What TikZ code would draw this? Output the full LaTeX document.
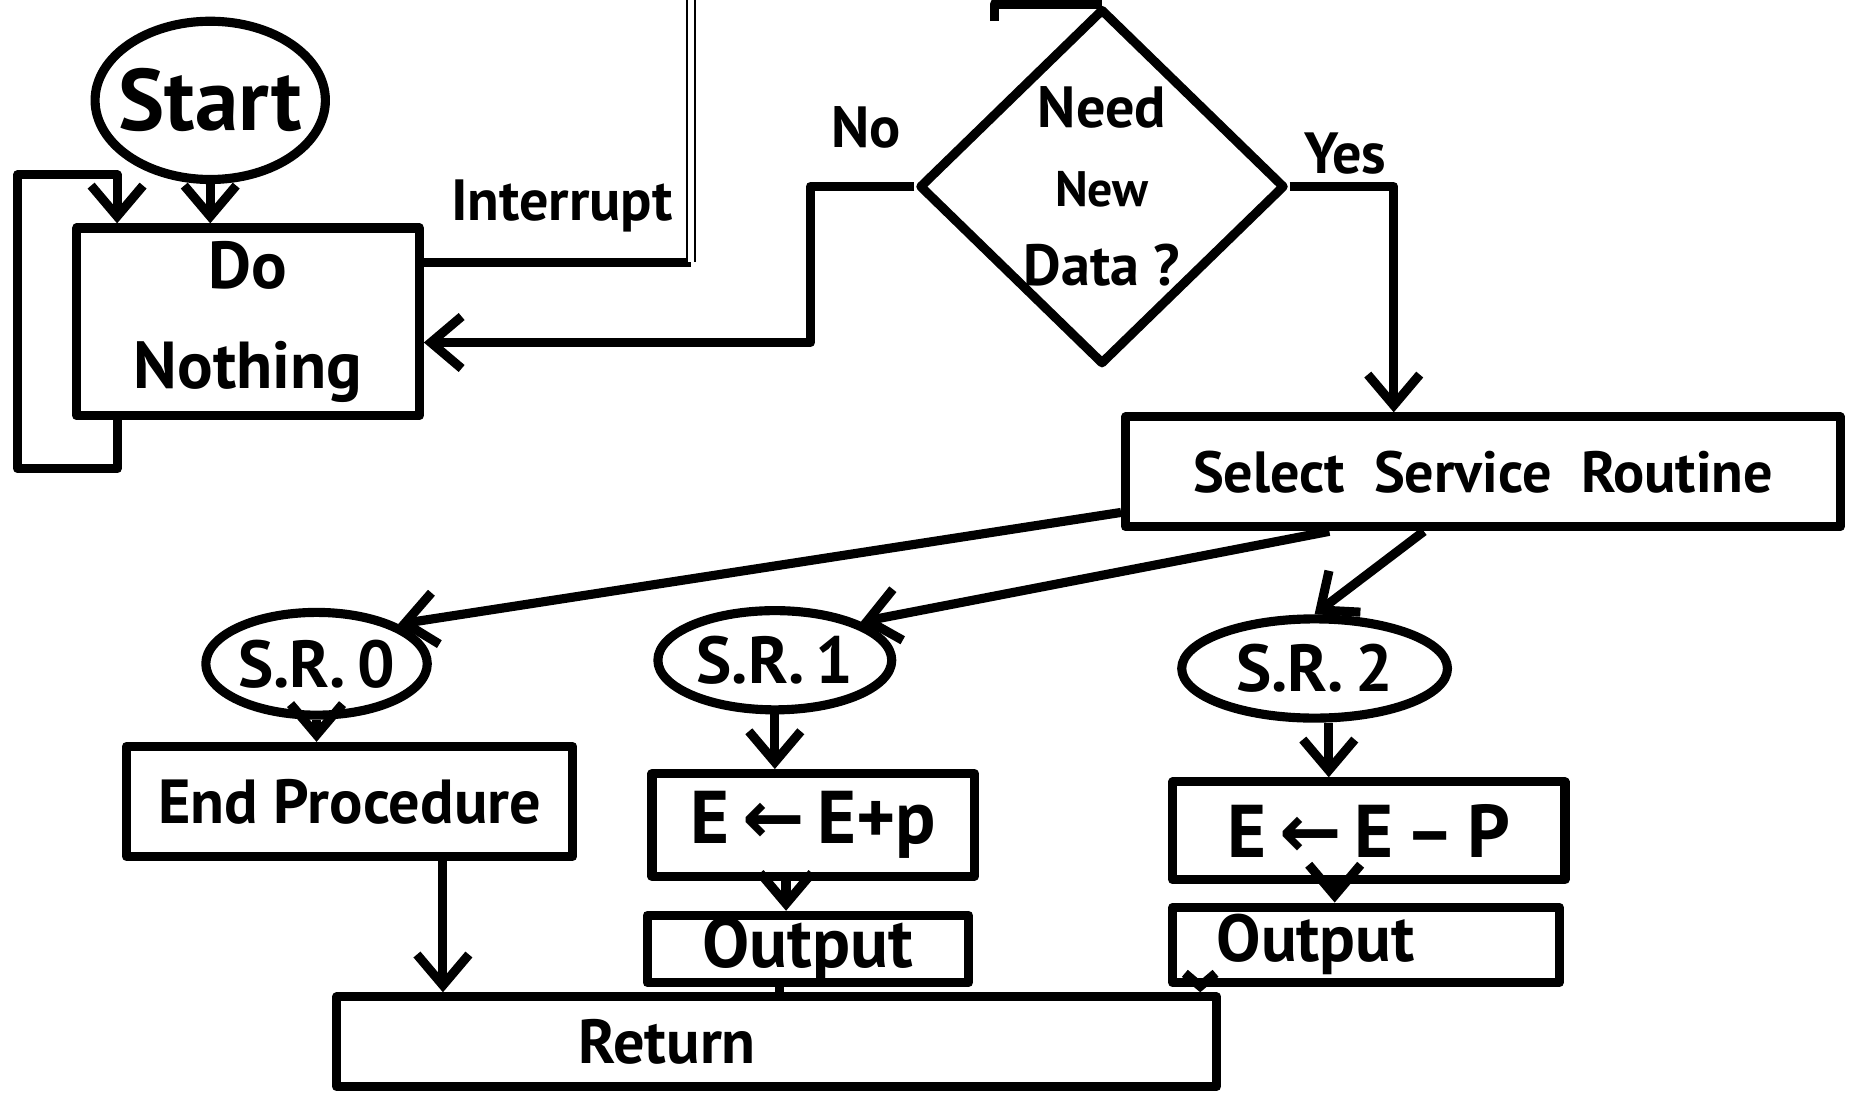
\documentclass[tikz,border=0pt]{standalone}
\usepackage{fontspec}
\setmainfont{PT Sans}
\newfontfamily\arrowfont{DejaVu Sans}
\usepackage{tikz}
\usetikzlibrary{
	arrows.meta,
	calc,
	positioning,
	shapes.geometric
}
\newcommand{\getsarrow}{{\arrowfont\bfseries ←}}

\begin{document}
\begin{tikzpicture}[line width=2.2pt, line join=round,
	flow/.style={-{Straight Barb[length=2.6mm,width=4.4mm]}},
	box/.style={draw, rectangle, inner sep=0pt, font=\bfseries\fontsize{15}{18}\selectfont},
	blob/.style={draw, ellipse, inner sep=0pt, font=\bfseries\fontsize{16}{18}\selectfont},
	tag/.style={font=\bfseries\fontsize{14}{16}\selectfont}]
	\useasboundingbox (0,0) rectangle (15.68,-9.25);

	% oben
	\node[blob, minimum width=1.95cm, minimum height=1.34cm, inner xsep=-1mm, font=\bfseries\fontsize{21}{23}\selectfont] (start) at (1.78,-0.85) {Start};
	\node[box, minimum width=2.9cm, minimum height=1.59cm, align=center, font=\bfseries\fontsize{16}{24}\selectfont] (nothing) at (2.10,-2.725) {Do\\Nothing};
	\draw[flow] (start.south) -- (start.south |- nothing.north);
	\draw[flow] ([xshift=3.8mm]nothing.south west) -- ++(0,-0.41) -| (0.15,-1.48) -| ([xshift=3.8mm]nothing.north west);

	% Interrupt
	\coordinate (ibend) at (5.85,-2.22);
	\coordinate (itop) at (5.85,0);
	\draw (nothing.east |- ibend) -- (ibend);
	\draw[line width=0.6pt, double, double distance=1.4pt] (ibend) -- (itop);
	\node[tag, anchor=south east] (intlab) at ([xshift=0mm,yshift=1mm]ibend) {Interrupt};

	% Raute
	\node[draw, diamond, minimum width=3.1cm, minimum height=2.95cm, inner sep=0pt, align=center, font=\bfseries\fontsize{14}{19}\selectfont] (need) at (9.33,-1.58) {Need\\{\fontsize{12}{14}\selectfont New}\\Data ?};
	\coordinate (topin) at (8.42,-0.18);
	\draw (topin) |- (need.north);
	\node[box, minimum width=6.05cm, minimum height=0.93cm, font=\bfseries\fontsize{14}{16}\selectfont] (select) at (12.555,-3.995) {Select\enspace Service\enspace Routine};
	\draw[flow] (need.west) -- ++(-0.88,0) |- ([yshift=-1.75mm]nothing.east);
	\node[tag] (nolab) at (7.33,-1.08) {No};
	\draw[flow] (need.east) -| ([xshift=-7.55mm]select.north);
	\node[tag] (yeslab) at (11.39,-1.30) {Yes};

	% Service Routinen
	\node[blob, minimum width=1.8cm, minimum height=0.87cm] (sr0) at (2.68,-5.62) {S.R.\,0};
	\node[blob, minimum width=1.98cm, minimum height=0.84cm] (sr1) at (6.56,-5.59) {S.R.\,1};
	\node[blob, minimum width=2.25cm, minimum height=0.84cm] (sr2) at (11.13,-5.66) {S.R.\,2};
	\draw[flow] ([yshift=1.6mm]select.south west) -- (sr0.north east);
	\draw[flow] ([xshift=-13mm]select.south) -- (sr1.north east);
	\draw[flow] ([xshift=-5mm]select.south) -- (sr2.north);

	\node[box, minimum width=3.78cm, minimum height=0.93cm] (endp) at (2.96,-6.785) {End Procedure};
	\node[box, minimum width=2.73cm, minimum height=0.87cm, font=\bfseries\fontsize{18}{20}\selectfont] (esum) at (6.885,-6.985) {E\,\getsarrow\,E+p};
	\node[box, minimum width=2.72cm, minimum height=0.57cm, font=\bfseries\fontsize{17}{19}\selectfont] (out1) at (6.84,-8.035) {Output};
	\node[box, minimum width=3.32cm, minimum height=0.83cm, font=\bfseries\fontsize{18}{20}\selectfont] (ediff) at (11.59,-7.035) {E\,\getsarrow\,E\,–\,P};
	\node[box, minimum width=3.27cm, minimum height=0.64cm, inner xsep=0.37cm, text width=2.53cm, align=left, font=\bfseries\fontsize{16}{18}\selectfont] (out2) at (11.565,-8.0) {Output};
	\node[box, minimum width=7.45cm, minimum height=0.76cm, inner xsep=2.05cm, text width=3.35cm, align=left] (ret) at (6.575,-8.82) {Return};

	\draw[flow] (sr0.south) -- (sr0.south |- endp.north);
	\draw[flow] ([xshift=7.9mm]endp.south) -- ([xshift=7.9mm]endp.south |- ret.north);
	\draw[flow] (sr1.south) -- (sr1.south |- esum.north);
	\draw[flow] ([xshift=-2.3mm]esum.south) -- ([xshift=-2.3mm]esum.south |- out1.north);
	\draw ([xshift=-2.4mm]out1.south) -- ([xshift=-2.4mm]out1.south |- ret.north);
	\draw[flow] ([xshift=1.2mm]sr2.south) -- ([xshift=1.2mm]sr2.south |- ediff.north);
	\draw[flow] ([xshift=-2.9mm]ediff.south) -- ([xshift=-2.9mm]ediff.south |- out2.north);
	\draw[-{Straight Barb[length=1.1mm,width=2.6mm]}] ([xshift=2.7mm]out2.south west) -- ([xshift=2.7mm]out2.south west |- ret.north);
\end{tikzpicture}
\end{document}
